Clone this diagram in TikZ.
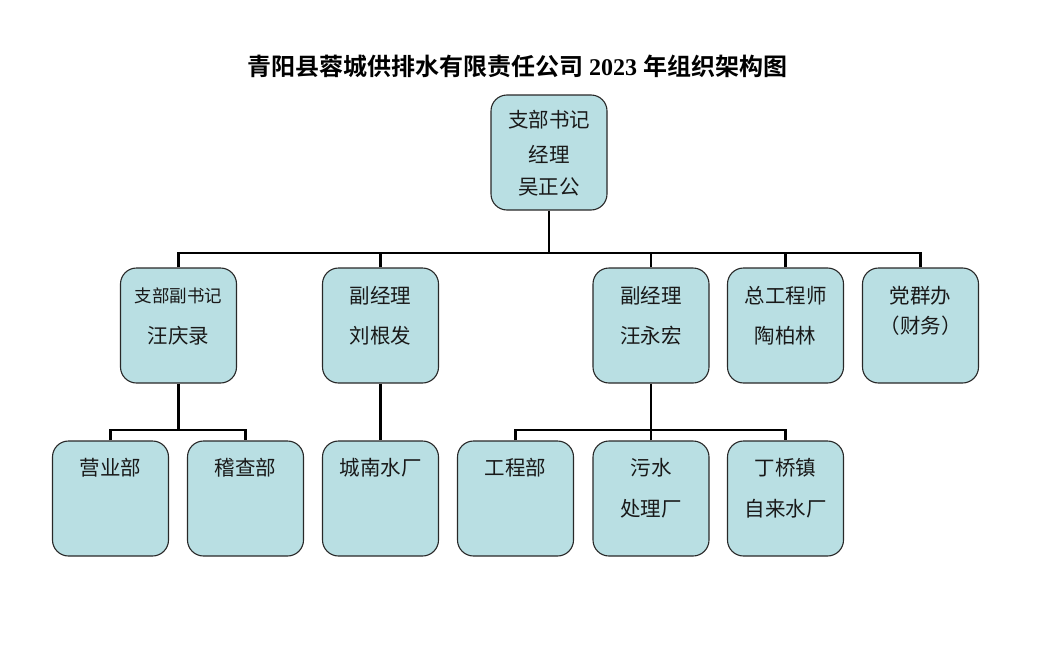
\documentclass[tikz,border=0pt]{standalone}
\usepackage{fontspec}
\setmainfont{Liberation Serif}
\newfontfamily\cjk[BoldFont={Noto Sans CJK SC Bold}]{Noto Sans CJK SC}
\definecolor{boxfill}{RGB}{185,223,227}
\definecolor{boxline}{RGB}{40,40,40}
\tikzset{
  orgbox/.style={draw=boxline, line width=1.1pt, fill=boxfill, rounded corners=16pt,
    minimum width=116pt, minimum height=115pt, inner sep=0pt},
  conn/.style={line width=2.8pt, line join=miter, draw=black},
  txt/.style={font=\cjk\fontsize{20.5}{24}\selectfont, inner sep=0pt, text=black!90},
  txts/.style={font=\cjk\fontsize{17.5}{21}\selectfont, inner sep=0pt, text=black!90}
}
\begin{document}
\begin{tikzpicture}[x=1pt,y=-1pt]
\useasboundingbox (0,0) rectangle (1044,645);
% title
\node[inner sep=0pt] (title) at (517,66)
  {\fontsize{24}{28}\selectfont{\cjk\bfseries 青阳县蓉城供排水有限责任公司} \textbf{2023} {\cjk\bfseries 年组织架构图}};
% boxes
\node[orgbox] (top) at (549,152.5) {};
\node[orgbox] (A) at (178.5,325.5) {};
\node[orgbox] (B) at (380.5,325.5) {};
\node[orgbox] (C) at (651,325.5) {};
\node[orgbox] (D) at (785.5,325.5) {};
\node[orgbox] (E) at (920.5,325.5) {};
\node[orgbox] (L1) at (110.5,498.5) {};
\node[orgbox] (L2) at (245.5,498.5) {};
\node[orgbox] (L3) at (380.5,498.5) {};
\node[orgbox] (L4) at (515.5,498.5) {};
\node[orgbox] (L5) at (651,498.5) {};
\node[orgbox] (L6) at (785.5,498.5) {};
% texts
\node[txt] (t1) at (549,120) {支部书记};
\node[txt] (t2) at (549,154) {经理};
\node[txt] (t3) at (549,187) {吴正公};
\node[txts] (a1) at (178.5,296) {支部副书记};
\node[txt] (a2) at (178.5,336) {汪庆录};
\node[txt] (b1t) at (380.5,296) {副经理};
\node[txt] (b2t) at (380.5,336) {刘根发};
\node[txt] (c1) at (651,296) {副经理};
\node[txt] (c2) at (651,336) {汪永宏};
\node[txt] (d1) at (785.5,296) {总工程师};
\node[txt] (d2) at (785.5,336) {陶柏林};
\node[txt] (e1) at (920.5,296) {党群办};
\node[txt] (e2) at (920.5,326) {（财务）};
\node[txt] (l1) at (110.5,468) {营业部};
\node[txt] (l2) at (245.5,468) {稽查部};
\node[txt] (l3) at (380.5,468) {城南水厂};
\node[txt] (l4) at (515.5,468) {工程部};
\node[txt] (l5) at (651,468) {污水};
\node[txt] (l5b) at (651,509) {处理厂};
\node[txt] (l6) at (785.5,468) {丁桥镇};
\node[txt] (l6b) at (785.5,509) {自来水厂};
% connectors
\coordinate (bus1) at (549,253);
\coordinate (bus2) at (178.5,430);
\coordinate (bus3) at (651,430);
\draw[conn] (top.south) -- (bus1);
\draw[conn] (A.north) |- (bus1) -| (E.north);
\draw[conn] (B.north) -- (B.north |- bus1);
\draw[conn] (C.north) -- (C.north |- bus1);
\draw[conn] (D.north) -- (D.north |- bus1);
\draw[conn] (A.south) -- (bus2);
\draw[conn] (L1.north) |- (bus2) -| (L2.north);
\draw[conn] (B.south) -- (L3.north);
\draw[conn] (C.south) -- (bus3);
\draw[conn] (L4.north) |- (bus3) -| (L6.north);
\draw[conn] (L5.north) -- (bus3);
\end{tikzpicture}
\end{document}
